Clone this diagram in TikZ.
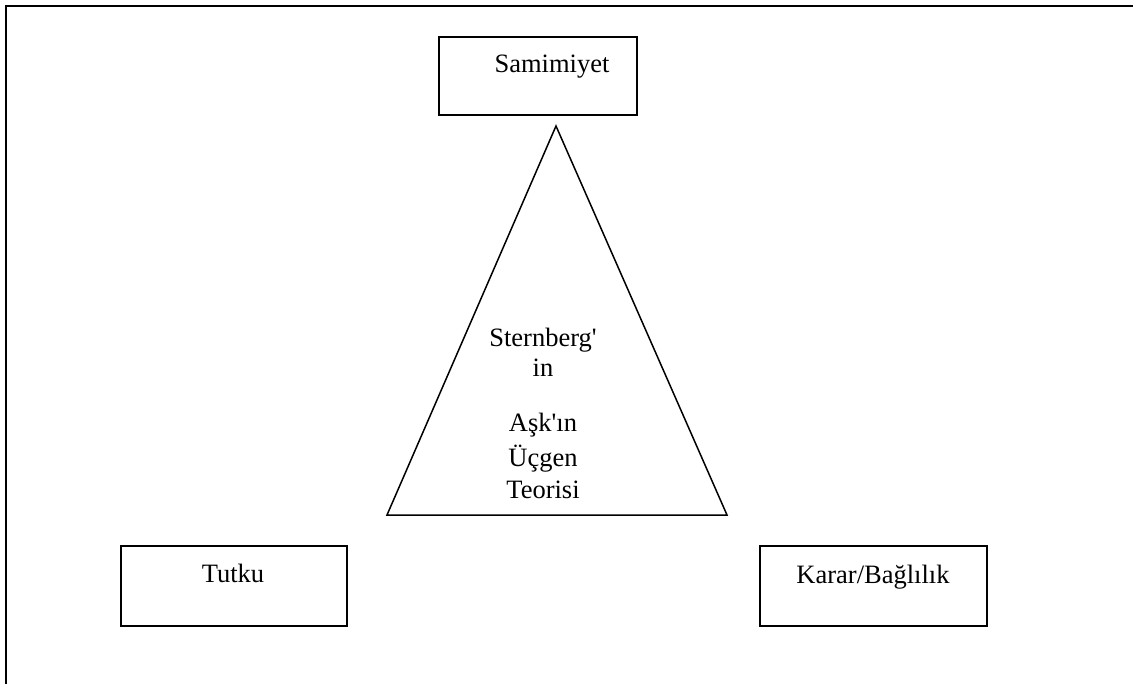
\documentclass[tikz,border=0pt]{standalone}
\usepackage{fontspec}
\setmainfont{Liberation Serif}
\begin{document}
\begin{tikzpicture}[x=1pt,y=-1pt,
  box/.style={draw,line width=1.8pt,rectangle,inner sep=0pt},
  lbl/.style={anchor=base,inner sep=0pt,font=\fontsize{26.5}{30}\selectfont},
  edge/.style={line width=1.5pt,line join=miter}]
\useasboundingbox (0,0) rectangle (1133,684);
% open frame: top and left sides
\coordinate (fl) at (6,684);
\coordinate (ftl) at (6,6);
\coordinate (ftr) at (1133,6);
\draw[edge] (fl) -- (ftl) -- (ftr);
% corner boxes
\node[box,minimum width=198pt,minimum height=78pt] (sam) at (538,76) {};
\node[box,minimum width=226pt,minimum height=80pt] (tut) at (234,586) {};
\node[box,minimum width=227pt,minimum height=80pt] (kar) at (873.5,586) {};
\node[lbl] (samt) at (552,73) {Samimiyet};
\node[lbl] (tutt) at (233,582) {Tutku};
\node[lbl] (kart) at (873,583) {Karar/Bağlılık};
% central triangle
\coordinate (apex) at (556,126);
\coordinate (bl) at (387,515);
\coordinate (br) at (727,515);
\draw[edge] (apex) -- (br) -- (bl) -- cycle;
\node[lbl] (t1) at (543,347) {Sternberg\textquotesingle};
\node[lbl] (t2) at (543,377) {in};
\node[lbl] (t3) at (543,432) {Aşk\textquotesingle ın};
\node[lbl] (t4) at (543,467) {Üçgen};
\node[lbl] (t5) at (543,498) {Teorisi};
\end{tikzpicture}
\end{document}
